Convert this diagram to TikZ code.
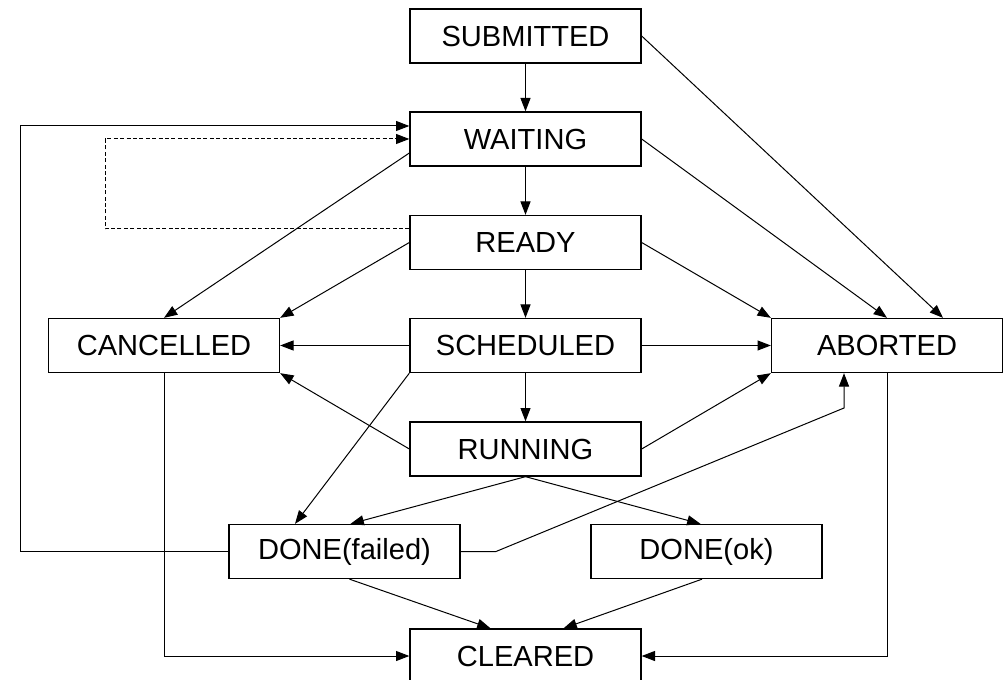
\documentclass[tikz,border=0pt]{standalone}
\usepackage{fontspec}
\setmainfont{Liberation Sans}
\usetikzlibrary{arrows.meta,calc}

\tikzset{
  state/.style={draw, line width=1pt, minimum width=173.25pt, minimum height=40.5pt,
    inner sep=0pt, font=\fontsize{21.8pt}{26pt}\selectfont},
  trans/.style={line width=0.75pt, -{Triangle[length=10pt,width=7.5pt]}},
  retry/.style={trans, dash pattern=on 3pt off 1.8pt}
}

\begin{document}
\begin{tikzpicture}[x=0.75pt,y=-0.75pt]
    \useasboundingbox (0,0) rectangle (1005,680);
    \node[state] (sub)   at (525.5,36)    {SUBMITTED};
    \node[state] (wait)  at (525.5,139)   {WAITING};
    \node[state] (ready) at (525.5,242.5) {READY};
    \node[state] (sched) at (525.5,345.5) {SCHEDULED};
    \node[state] (run)   at (525.5,449)   {RUNNING};
    \node[state] (canc)  at (164,345.5)   {CANCELLED};
    \node[state] (abrt)  at (887,345.5)   {ABORTED};
    \node[state] (dfail) at (344.5,551.5) {DONE(failed)};
    \node[state] (dok)   at (706.5,551.5) {DONE(ok)};
    \node[state] (clr)   at (525.5,656)   {CLEARED};
    \coordinate (loopL) at (20,126);
    \coordinate (dotL)  at (105,229);
    \coordinate (kneeA) at (496,551.5);
    \coordinate (kneeB) at (844,408);
    % main chain
    \draw[trans] (sub) -- (wait);
    \draw[trans] (wait) -- (ready);
    \draw[trans] (ready) -- (sched);
    \draw[trans] (sched) -- (run);
    % to ABORTED
    \draw[trans] (sub.east) -- ($(abrt.north)+(56,0)$);
    \draw[trans] (wait.east) -- (abrt.north);
    \draw[trans] (ready.east) -- (abrt.north west);
    \draw[trans] (sched.east) -- (abrt.west);
    \draw[trans] (run.east) -- (abrt.south west);
    \draw[trans] (dfail.east) -- (kneeA) -- (kneeB) -- (kneeB |- abrt.south);
    % to CANCELLED
    \draw[trans] ($(wait.west)+(0,14)$) -- (canc.north);
    \draw[trans] (ready.west) -- (canc.north east);
    \draw[trans] (sched.west) -- (canc.east);
    \draw[trans] (run.west) -- (canc.south east);
    % to DONE
    \draw[trans] (sched.south west) -- ($(dfail.north)+(-49.5,0)$);
    \draw[trans] (run.south) -- ($(dfail.north)+(6,0)$);
    \draw[trans] (run.south) -- ($(dok.north)+(-6,0)$);
    % back to WAITING
    \draw[trans] (dfail.west) -| (loopL) -- (loopL -| wait.west);
    \draw[retry] (ready.west |- dotL) -- (dotL) |- (wait.west);
    % to CLEARED
    \draw[trans] (canc.south) |- (clr.west);
    \draw[trans] (abrt.south) |- (clr.east);
    \draw[trans] ($(dfail.south)+(5,0)$) -- ($(clr.north)+(-35,0)$);
    \draw[trans] ($(dok.south)+(-4.5,0)$) -- ($(clr.north)+(38,0)$);
\end{tikzpicture}
\end{document}
